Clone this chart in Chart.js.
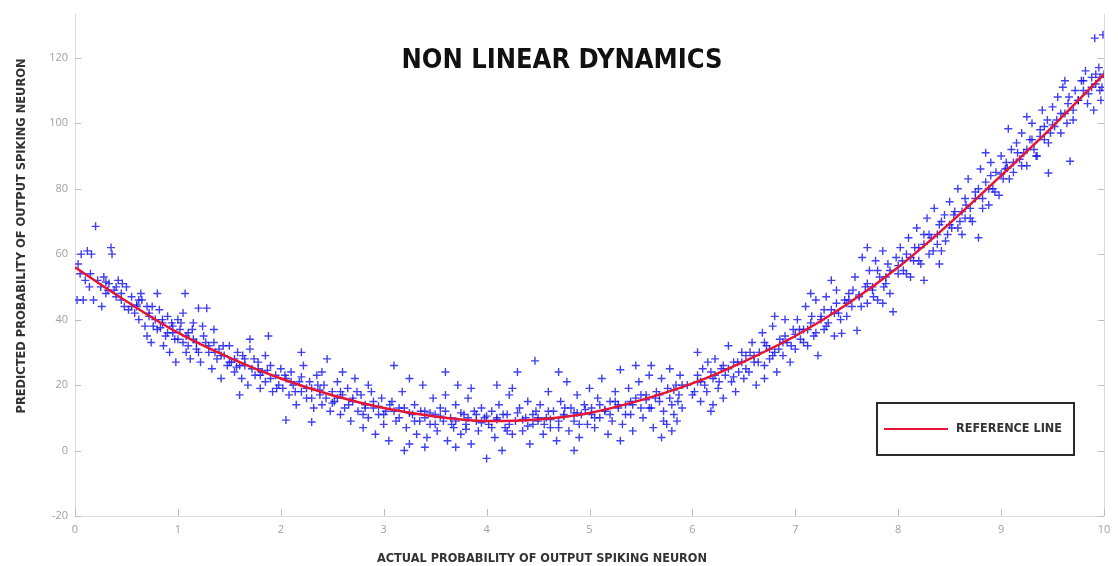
<!DOCTYPE html>
<html>
<head>
<meta charset="utf-8">
<script src="https://cdn.jsdelivr.net/npm/chart.js@4.4.0/dist/chart.umd.min.js"></script>
<style>
  html, body { margin: 0; padding: 0; background: #fff; }
</style>
</head>
<body>
<canvas id="myChart" width="1118" height="566"></canvas>
<script>
// ticks
const xTicks = [0, 1, 2, 3, 4, 5, 6, 7, 8, 9, 10];
const yTicks = [-20, 0, 20, 40, 60, 80, 100, 120];

// reference line, every 0.5
const curveX = [0, 0.5, 1, 1.5, 2, 2.5, 3, 3.5, 4, 4.5, 5, 5.5, 6, 6.5, 7, 7.5, 8, 8.5, 9, 9.5, 10];
const curveY = [56, 45.6, 36, 28.4, 22, 16.9, 13, 10.4, 9, 9.5, 11.5, 15.4, 20.5, 27.2, 35, 44.6, 56, 69.4, 84, 99, 115];

// measured points (actual, predicted)
const scatterPoints = [
  [0.02,46],[0.08,46],[0.18,46],[0.03,57],[0.06,60],[0.12,61],[0.2,68.5],[0.16,60],[0.35,62],[0.36,60],[0.05,54],[0.1,52],[0.14,50],
  [0.22,52],[0.25,50],[0.28,53],[0.3,48],[0.33,51],[0.38,49],[0.4,47],[0.42,52],[0.45,46],[0.48,44],[0.5,50],[0.52,43],[0.26,44],
  [0.55,47],[0.58,42],[0.6,44],[0.62,40],[0.65,46],[0.68,38],[0.7,35],[0.74,33],[0.72,42],[0.75,44],[0.78,40],[0.8,37],[0.82,43],
  [0.85,39],[0.88,35],[0.9,41],[0.92,30],[0.95,38],[0.97,34],[1.0,40],[0.98,27],[0.86,32],[0.64,48],[0.8,48],
  [1.02,37],[1.05,33],[1.07,48],[1.08,30],[1.1,36],[1.12,28],[1.15,34],[1.18,31],[1.2,43.5],[1.28,43.5],[1.22,27],[1.25,35],
  [1.3,30],[1.33,25],[1.35,33],[1.38,28],[1.4,31],[1.42,22],[1.45,29],[1.48,26],[1.5,32],[1.15,39],[1.35,37],[1.05,42],
  [1.52,27],[1.55,24],[1.58,30],[1.6,26],[1.62,22],[1.65,28],[1.68,20],[1.7,31],[1.72,25],[1.75,23],[1.78,27],[1.8,19],
  [1.82,24],[1.85,21],[1.88,35],[1.9,26],[1.92,18],[1.95,23],[1.98,20],[2.0,25],[1.7,34],[1.6,17],[1.85,29],
  [2.02,19],[2.05,9.3],[2.05,22],[2.08,17],[2.1,24],[2.12,20],[2.15,14],[2.18,21],[2.2,18],[2.22,26],[2.25,16],[2.28,21],
  [2.3,8.7],[2.3,19],[2.32,13],[2.35,23],[2.38,17],[2.4,14],[2.42,20],[2.45,28],[2.48,12],[2.5,18],[2.2,30],[2.4,24],
  [2.52,15],[2.55,21],[2.58,11],[2.6,17],[2.62,13],[2.65,19],[2.68,9],[2.7,15],[2.72,22],[2.75,12],[2.78,17],[2.8,7],
  [2.82,14],[2.85,10],[2.88,18],[2.9,13],[2.92,5],[2.95,11],[2.98,16],[3.0,8],[2.6,24],[2.85,20],
  [3.02,12],[3.05,3],[3.08,15],[3.1,26],[3.12,9],[3.15,13],[3.18,18],[3.2,0],[3.22,7],[3.25,2],[3.28,11],[3.3,14],
  [3.32,5],[3.35,9],[3.38,20],[3.4,12],[3.42,4],[3.45,8],[3.48,16],[3.5,11],[3.25,22],[3.4,1],
  [3.52,6],[3.55,13],[3.58,9],[3.6,17],[3.62,3],[3.65,10],[3.68,7],[3.7,14],[3.72,20],[3.75,5],[3.78,11],[3.8,8],
  [3.82,16],[3.85,2],[3.88,12],[3.9,9],[3.92,6],[3.95,13],[3.98,10],[4.0,-2.4],[3.6,24],[3.85,19],[3.7,1],
  [4.02,8],[4.05,12],[4.08,4],[4.1,10],[4.12,14],[4.15,0],[4.18,7],[4.2,11],[4.22,17],[4.25,5],[4.28,9],[4.3,24],
  [4.32,13],[4.35,6],[4.38,10],[4.4,15],[4.42,2],[4.45,8],[4.47,27.4],[4.48,12],[4.5,9],[4.25,19],[4.1,20],
  [4.52,14],[4.55,5],[4.58,10],[4.6,18],[4.62,7],[4.65,12],[4.68,3],[4.7,9],[4.72,15],[4.75,11],[4.78,21],[4.8,6],
  [4.82,13],[4.85,9],[4.88,17],[4.9,4],[4.92,11],[4.95,14],[4.98,8],[5.0,19],[4.7,24],[4.85,0],
  [5.02,13],[5.05,7],[5.08,16],[5.1,10],[5.12,22],[5.15,12],[5.18,5],[5.2,15],[5.22,9],[5.25,18],[5.28,13],[5.3,24.7],
  [5.32,8],[5.35,14],[5.38,19],[5.4,11],[5.42,6],[5.45,16],[5.48,21],[5.5,13],[5.3,3],[5.45,26],
  [5.52,10],[5.55,17],[5.58,23],[5.6,13],[5.62,7],[5.65,18],[5.68,15],[5.7,22],[5.72,9],[5.75,8],[5.76,19],[5.78,25],
  [5.8,6],[5.8,14],[5.82,11],[5.84,20],[5.85,9],[5.87,17],[5.88,23],[5.9,13],[5.6,26],[5.7,4],
  [6.02,18],[6.05,23],[6.08,15],[6.1,25],[6.12,20],[6.15,27],[6.18,12],[6.2,22],[6.22,28],[6.25,19],[6.28,25],[6.3,16],
  [6.32,23],[6.35,32],[6.38,21],[6.4,27],[6.42,18],[6.45,24],[6.48,30],[6.5,22],[6.2,14],[6.05,30],
  [6.52,29],[6.55,24],[6.58,33],[6.6,27],[6.62,20],[6.65,30],[6.68,36],[6.7,26],[6.72,32],[6.75,28],[6.78,38],[6.8,30],
  [6.82,24],[6.85,34],[6.88,29],[6.9,40],[6.92,33],[6.95,27],[6.98,37],[7.0,31],[6.7,22],[6.8,41],
  [7.02,40],[7.05,34],[7.08,37],[7.1,44],[7.12,32],[7.15,39],[7.18,35],[7.2,46],[7.22,29],[7.25,41],[7.28,37],[7.3,47],
  [7.32,39],[7.35,43],[7.38,35],[7.4,49],[7.42,42],[7.45,35.8],[7.48,46],[7.5,41],[7.15,48],[7.35,52],
  [7.52,48],[7.55,44],[7.58,53],[7.6,36.7],[7.62,47],[7.65,59],[7.68,50],[7.7,45],[7.72,55],[7.75,49],[7.78,58],[7.8,46],
  [7.82,53],[7.85,61],[7.88,51],[7.9,57],[7.92,48],[7.95,42.4],[7.98,59],[8.0,54],[7.7,62],[7.85,45],
  [8.02,62],[8.05,55],[8.08,60],[8.1,65],[8.12,53],[8.15,58],[8.18,68],[8.2,62],[8.22,57],[8.25,66],[8.28,71],[8.3,60],
  [8.32,65],[8.35,74],[8.38,63],[8.4,69],[8.42,61],[8.45,72],[8.48,66],[8.5,76],[8.25,52],[8.4,57],
  [8.52,68],[8.55,73],[8.58,80],[8.6,70],[8.62,66],[8.65,77],[8.68,83],[8.7,74],[8.72,70],[8.75,79],[8.78,65],[8.8,86],
  [8.82,77],[8.85,82],[8.88,75],[8.9,88],[8.92,80],[8.95,85],[8.98,78],[9.0,90],[8.65,71],[8.85,91],
  [9.02,83],[9.05,88],[9.06,86.3],[9.07,98.3],[9.1,92],[9.12,85],[9.15,94],[9.18,89],[9.2,97],[9.22,91],[9.25,87],[9.28,95],
  [9.3,100],[9.32,92],[9.35,90],[9.38,98],[9.4,104],[9.42,95],[9.45,101],[9.46,84.8],[9.48,97],[9.5,105],[9.25,102],
  [9.52,99],[9.55,108],[9.58,103],[9.6,111],[9.62,113],[9.64,100],[9.65,106],[9.67,88.4],[9.7,104],[9.72,110],[9.75,107],
  [9.78,113],[9.8,110],[9.82,116],[9.85,109],[9.88,114],[9.9,104],[9.91,126],[9.92,112],[9.95,117],[9.97,107],[9.99,127],
  [9.98,111],[10.0,115]
];

// the dense core close to the line
const corePoints = [
  [0.15,54],[0.32,49],[0.45,48],[0.6,44.5],[0.72,41],[0.85,40],[0.95,36],[1.08,35],[1.18,33],[1.3,32],[1.42,29],[1.55,28],
  [1.65,26],[1.78,25],[1.9,22],[2.1,21],[2.25,19],[2.38,18.5],[2.55,16],[2.7,16],[2.82,13],[2.95,13.5],[3.1,12],[3.25,11.5],
  [3.4,10],[3.55,10.5],[3.7,9],[3.82,10],[3.95,8.5],[4.1,9.5],[4.22,8],[4.35,9.5],[4.5,10],[4.62,9.5],[4.75,10.5],[4.88,11.5],
  [5.02,11],[5.15,12.5],[5.28,14],[5.4,15],[5.55,15.5],[5.68,17],[5.82,18.5],[5.95,20],[6.08,21],[6.22,23],[6.35,25],[6.48,27],
  [6.6,29],[6.75,31],[6.88,33],[7.0,35.5],[7.12,37],[7.25,40],[7.38,42],[7.5,45],[7.62,47.5],[7.75,50],[7.88,53],[8.0,56.5],
  [8.12,59],[8.25,63],[8.38,66],[8.5,69],[8.62,73],[8.75,77],[8.88,80],[9.0,84.5],[9.12,88],[9.25,92],[9.38,96],[9.5,99.5],
  [9.62,103],[9.75,107],[9.88,111],[9.96,114]
];

// the blue clusters a little off the line
const bandPoints = [
  [0.3,51.5],[0.4,50],[0.46,51],[0.55,44],[0.62,46],[0.7,44],[0.76,38],[0.83,37.5],[0.9,36],[0.94,39],[1.0,34],[1.03,39],
  [1.1,32],[1.14,37],[1.2,30],[1.24,38],[1.27,33],[1.36,30],[1.44,32],[1.5,27],[1.57,25.5],[1.63,29],[1.74,28],[1.8,23],
  [1.87,24.5],[1.96,19],[2.04,23],[2.14,18],[2.2,22.5],[2.3,16],[2.36,20],[2.44,16],[2.5,14.5],[2.58,18],[2.66,14],[2.74,18],
  [2.8,11],[2.9,15],[3.0,11],[3.06,14],[3.15,10],[3.2,13],[3.3,9],[3.36,12],[3.45,11.5],[3.5,8],[3.6,12],[3.66,8],[3.75,11.5],
  [3.8,6.5],[3.9,11],[4.0,10.5],[4.05,7],[4.16,11],[4.2,6],[4.3,11.5],[4.4,7.5],[4.45,11],[4.56,8],[4.6,12],[4.7,7],[4.76,13],
  [4.85,11.5],[4.9,8],[4.96,12.5],[5.05,10],[5.1,14],[5.2,11],[5.25,15],[5.35,11],[5.42,14],[5.5,17],[5.58,13],[5.64,16],
  [5.72,12],[5.78,16],[5.86,15],[5.9,20],[6.0,17],[6.05,21],[6.14,18],[6.18,24],[6.26,21],[6.3,26],[6.4,22.5],[6.44,27],
  [6.52,25],[6.56,30],[6.64,27],[6.7,33],[6.78,29],[6.84,31],[6.9,35],[6.96,32],[7.04,37],[7.08,33],[7.16,41],[7.2,36],
  [7.28,43],[7.3,38],[7.4,45],[7.44,40],[7.52,46],[7.56,49],[7.64,44],[7.7,51],[7.76,47],[7.8,55],[7.86,50],[7.92,55],
  [8.04,58],[8.08,54],[8.16,62],[8.2,58],[8.3,66],[8.34,61],[8.42,70],[8.46,64],[8.54,72],[8.58,68],[8.66,75],[8.7,71],
  [8.78,80],[8.82,74],[8.9,84],[8.94,79],[9.04,86],[9.08,83],[9.16,91],[9.2,87],[9.3,95],[9.34,90],[9.42,99],[9.46,94],
  [9.54,101],[9.58,97],[9.66,108],[9.7,101],[9.8,113],[9.84,106],[9.92,115],[9.96,110]
];

const refLabel = "REFERENCE LINE";
const chartTitle = "NON LINEAR DYNAMICS";
const xTitle = "ACTUAL PROBABILITY OF OUTPUT SPIKING NEURON";
const yTitle = "PREDICTED PROBABILITY OF OUTPUT SPIKING NEURON";

const lineColor = "rgb(228, 22, 52)";
const dotColor = "rgba(15, 15, 240, 0.8)";

// text squeezed to the width it has in the picture
function fitText(ctx, text, x, y, width, font, color, angle) {
  ctx.save();
  ctx.font = font;
  ctx.fillStyle = color;
  ctx.textAlign = "center";
  ctx.textBaseline = "middle";
  ctx.translate(x, y);
  if (angle) ctx.rotate(angle);
  let w = ctx.measureText(text).width;
  ctx.scale(width / w, 1);
  ctx.fillText(text, 0, 0);
  ctx.restore();
}

const frame = {
  id: "frame",
  beforeDatasetsDraw(chart) {
    const ctx = chart.ctx;
    const a = chart.chartArea;
    const xs = chart.scales.x;
    const ys = chart.scales.y;
    ctx.save();
    ctx.strokeStyle = "#dcdcdc";
    ctx.lineWidth = 1;
    ctx.beginPath();
    ctx.moveTo(a.left + 0.5, a.top);
    ctx.lineTo(a.left + 0.5, a.bottom + 0.5);
    ctx.lineTo(a.right + 0.5, a.bottom + 0.5);
    ctx.lineTo(a.right + 0.5, a.top);
    ctx.stroke();
    // ticks point inwards
    ctx.strokeStyle = "#bdbdbd";
    ctx.beginPath();
    for (let v of yTicks) {
      let py = Math.round(ys.getPixelForValue(v)) + 0.5;
      ctx.moveTo(a.left, py);
      ctx.lineTo(a.left + 6, py);
      ctx.moveTo(a.right, py);
      ctx.lineTo(a.right - 6, py);
    }
    for (let v of xTicks) {
      let px = Math.round(xs.getPixelForValue(v)) + 0.5;
      ctx.moveTo(px, a.bottom);
      ctx.lineTo(px, a.bottom - 7);
    }
    ctx.stroke();
    ctx.restore();
  },
  afterDraw(chart) {
    const ctx = chart.ctx;
    const a = chart.chartArea;
    fitText(ctx, chartTitle, 562, 61, 321, 'bold 27px "DejaVu Sans"', "#111");
    fitText(ctx, xTitle, 542, 559, 330, 'bold 12px "DejaVu Sans"', "#333");
    fitText(ctx, yTitle, 22, 236, 355, 'bold 12px "DejaVu Sans"', "#333", -Math.PI / 2);

    // legend box
    let bx = a.right - 227, by = a.bottom - 113;
    ctx.save();
    ctx.fillStyle = "#fff";
    ctx.fillRect(bx, by, 197, 52);
    ctx.strokeStyle = "#2a2a2a";
    ctx.lineWidth = 2;
    ctx.strokeRect(bx, by, 197, 52);
    ctx.strokeStyle = lineColor;
    ctx.beginPath();
    ctx.moveTo(bx + 7, by + 26);
    ctx.lineTo(bx + 71, by + 26);
    ctx.stroke();
    ctx.restore();
    fitText(ctx, chart.data.datasets[0].label, bx + 132, by + 26, 106, 'bold 12px "DejaVu Sans"', "#333");
  }
};

const ctx = document.getElementById("myChart").getContext("2d");
const myChart = new Chart(ctx, {
  type: "scatter",
  data: {
    datasets: [
      {
        label: refLabel,
        data: curveX.map((x, i) => ({ x: x, y: curveY[i] })),
        showLine: true,
        borderColor: lineColor,
        borderWidth: 2.5,
        pointRadius: 0,
        tension: 0.4,
        cubicInterpolationMode: "monotone",
        order: 0,
      },
      {
        label: "data",
        data: scatterPoints.concat(corePoints, bandPoints).map((p) => ({ x: p[0], y: p[1] })),
        pointStyle: "cross",
        pointRadius: 4,
        borderColor: dotColor,
        backgroundColor: dotColor,
        borderWidth: 1.4,
        order: 1,
      },
    ],
  },
  options: {
    responsive: false,
    animation: false,
    layout: { padding: { top: 5, right: 14, left: 0, bottom: 0 } },
    plugins: {
      legend: { display: false },
      tooltip: { enabled: false },
    },
    scales: {
      x: {
        type: "linear",
        min: 0,
        max: 10,
        afterBuildTicks: (scale) => { scale.ticks = xTicks.map((v) => ({ value: v })); },
        afterFit: (scale) => { scale.height = 50; },
        grid: { display: false, drawTicks: false },
        border: { display: false },
        ticks: { color: "#a0a0a0", font: { size: 11, family: "Open Sans" }, padding: 7, maxRotation: 0 },
      },
      y: {
        type: "linear",
        min: -20,
        max: 133.5,
        afterBuildTicks: (scale) => { scale.ticks = yTicks.map((v) => ({ value: v })); },
        afterFit: (scale) => { scale.width = 75; },
        grid: { display: false, drawTicks: false },
        border: { display: false },
        ticks: { color: "#a0a0a0", font: { size: 11, family: "Open Sans" }, padding: 7 },
      },
    },
  },
  plugins: [frame],
});
</script>
</body>
</html>
